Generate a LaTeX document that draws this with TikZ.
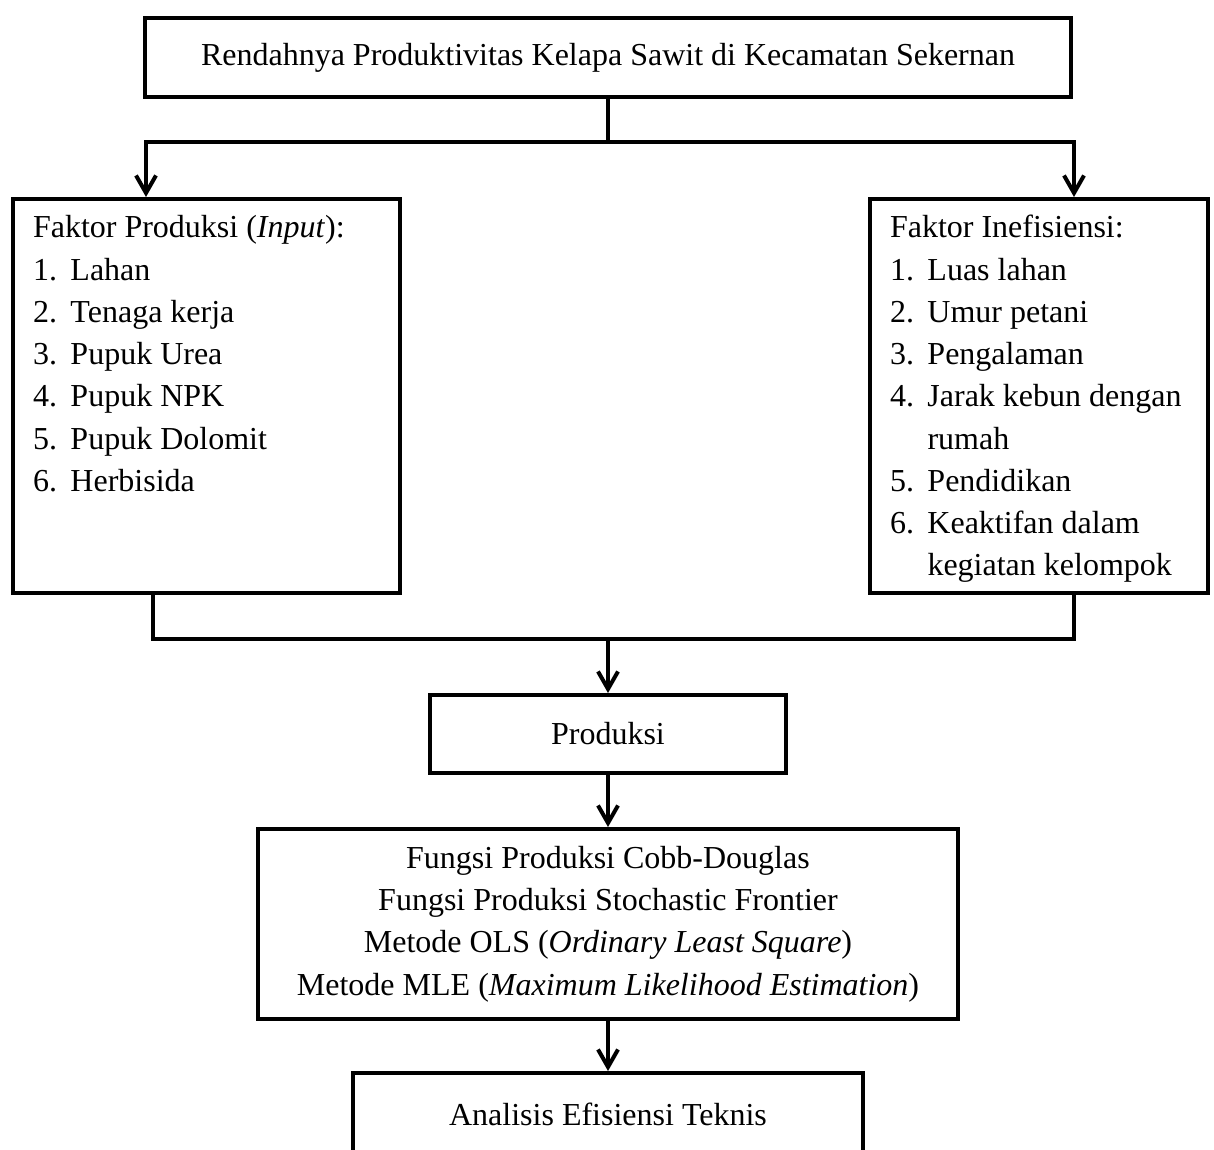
\documentclass[tikz,border=0pt]{standalone}
\usepackage{fontspec}
\setmainfont{Liberation Serif}
\usepackage{tikz}
\usetikzlibrary{arrows.meta}

\newcommand{\butir}[2]{\par\hangindent=15pt\hangafter=1\noindent\makebox[15pt][l]{#1}#2}

\begin{document}
\begin{tikzpicture}[x=1pt,y=1pt,line width=1.6pt,>={Straight Barb[length=7pt,width=8pt]}]
  \tikzstyle{box}=[draw,rectangle,inner sep=0pt,align=center,font=\fontsize{12.8}{16.9}\selectfont]
  \tikzstyle{listbox}=[draw,rectangle,inner xsep=8pt,inner ysep=0pt,font=\fontsize{12.8}{16.9}\selectfont]

  \useasboundingbox (0,0) rectangle (485.6,-460);
  \clip (0,0) rectangle (485.6,-460);

  \node[box,minimum width=370.4pt,minimum height=31.6pt] (masalah) at (243.2,-23) {Rendahnya Produktivitas Kelapa Sawit di Kecamatan Sekernan};

  \node[listbox] (input) at (82.6,-158.4) {\parbox[c][157.6pt][t]{138.8pt}{\raggedright\rule{0pt}{15.6pt}Faktor Produksi (\textit{Input}):
    \butir{1.}{Lahan}
    \butir{2.}{Tenaga kerja}
    \butir{3.}{Pupuk Urea}
    \butir{4.}{Pupuk NPK}
    \butir{5.}{Pupuk Dolomit}
    \butir{6.}{Herbisida}}};
  \node[listbox] (inefisiensi) at (415.6,-158.4) {\parbox[c][157.6pt][t]{119.2pt}{\raggedright\rule{0pt}{15.6pt}Faktor Inefisiensi:
    \butir{1.}{Luas lahan}
    \butir{2.}{Umur petani}
    \butir{3.}{Pengalaman}
    \butir{4.}{Jarak kebun dengan\newline rumah}
    \butir{5.}{Pendidikan}
    \butir{6.}{Keaktifan dalam\newline kegiatan kelompok}}};

  \node[box,minimum width=142.4pt,minimum height=31.2pt] (produksi) at (243.2,-293.6) {Produksi};
  \node[box,minimum width=280pt,minimum height=76pt] (fungsi) at (243.2,-369.6) {Fungsi Produksi Cobb-Douglas\\Fungsi Produksi Stochastic Frontier\\Metode OLS (\textit{Ordinary Least Square})\\Metode MLE (\textit{Maximum Likelihood Estimation})};
  \node[box,minimum width=204pt,minimum height=33pt] (analisis) at (243.2,-445.7) {Analisis Efisiensi Teknis};

  \coordinate (bagi1) at (58.4,-56.8);
  \coordinate (bagi2) at (429.6,-56.8);
  \coordinate (gabung1) at (61.2,-255.6);
  \coordinate (gabung2) at (429.6,-255.6);

  \draw (masalah.south) -- (masalah.south |- bagi1);
  \draw[<->] (bagi1 |- input.north) -- (bagi1) -- (bagi2) -- (bagi2 |- inefisiensi.north);
  \draw (gabung1 |- input.south) -- (gabung1) -- (gabung2) -- (gabung2 |- inefisiensi.south);
  \draw[->] (produksi.north |- gabung1) -- (produksi.north);
  \draw[->] (produksi.south) -- (fungsi.north);
  \draw[->] (fungsi.south) -- (analisis.north);
\end{tikzpicture}
\end{document}
